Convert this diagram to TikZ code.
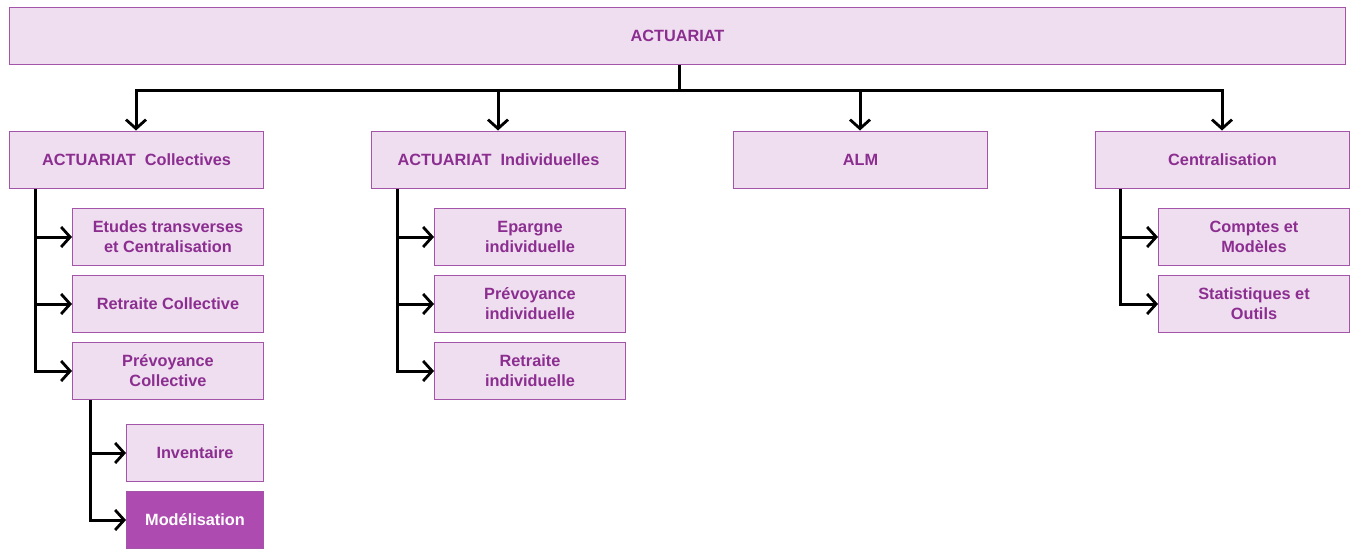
\documentclass[tikz,border=0pt]{standalone}
\usepackage{fontspec}
\setmainfont{Liberation Sans}
\usetikzlibrary{arrows.meta}
\definecolor{boxfill}{HTML}{EFDDF0}
\definecolor{boxdraw}{HTML}{A455AA}
\definecolor{boxtext}{HTML}{8B2E90}
\definecolor{darkfill}{HTML}{AD4BB0}
\tikzset{
  box/.style={draw=boxdraw, fill=boxfill, line width=1pt, text=boxtext, font=\bfseries\fontsize{16.3}{20}\selectfont, align=center, inner sep=0pt, anchor=north west},
  darkbox/.style={box, fill=darkfill, text=white},
  conn/.style={line width=3pt, -{Straight Barb[length=9pt,width=20pt,line width=2.8pt]}},
  plain/.style={line width=3pt}
}
\begin{document}
\begin{tikzpicture}[x=1pt,y=-1pt]
\useasboundingbox (0,0) rectangle (1354,549);
\node[box, minimum width=1336pt, minimum height=57pt] (top) at (9,7) {ACTUARIAT};
\node[box, minimum width=254pt, minimum height=57pt] (c1) at (9,131) {ACTUARIAT\ \ Collectives};
\node[box, minimum width=254pt, minimum height=57pt] (c2) at (371,131) {ACTUARIAT\ \ Individuelles};
\node[box, minimum width=254pt, minimum height=57pt] (c3) at (733,131) {ALM};
\node[box, minimum width=254pt, minimum height=57pt] (c4) at (1095,131) {Centralisation};
% column 1
\node[box, minimum width=191pt, minimum height=57pt] (a1) at (72,208) {Etudes transverses\\et Centralisation};
\node[box, minimum width=191pt, minimum height=57pt] (a2) at (72,275) {Retraite Collective};
\node[box, minimum width=191pt, minimum height=57pt] (a3) at (72,342) {Prévoyance\\Collective};
\node[box, minimum width=137pt, minimum height=57pt] (p1) at (126,424) {Inventaire};
\node[darkbox, minimum width=137pt, minimum height=57pt] (p2) at (126,491) {Modélisation};
% column 2
\node[box, minimum width=191pt, minimum height=57pt] (b1) at (434,208) {Epargne\\individuelle};
\node[box, minimum width=191pt, minimum height=57pt] (b2) at (434,275) {Prévoyance\\individuelle};
\node[box, minimum width=191pt, minimum height=57pt] (b3) at (434,342) {Retraite\\individuelle};
% column 4
\node[box, minimum width=191pt, minimum height=57pt] (d1) at (1158,208) {Comptes et\\Modèles};
\node[box, minimum width=191pt, minimum height=57pt] (d2) at (1158,275) {Statistiques et\\Outils};
% coordinates
\coordinate (bus) at (679,90);
% top connectors
\draw[plain] (top.south -| bus) -- (bus);
\foreach \n/\x in {c1/136,c2/498,c3/860,c4/1222}{
  \draw[conn] (bus) -| (\x,90) -- (\x,130.5);
}
% column trunks
\foreach \p/\x/\list in {c1/35/{a1,a2,a3}, c2/397/{b1,b2,b3}, c4/1120/{d1,d2}, a3/90/{p1,p2}}{
  \foreach \c in \list {
    \draw[conn] (\x,0 |- \p.south) -- (\x,0 |- \c.west) -- (\c.west);
  }
}
\end{tikzpicture}
\end{document}
